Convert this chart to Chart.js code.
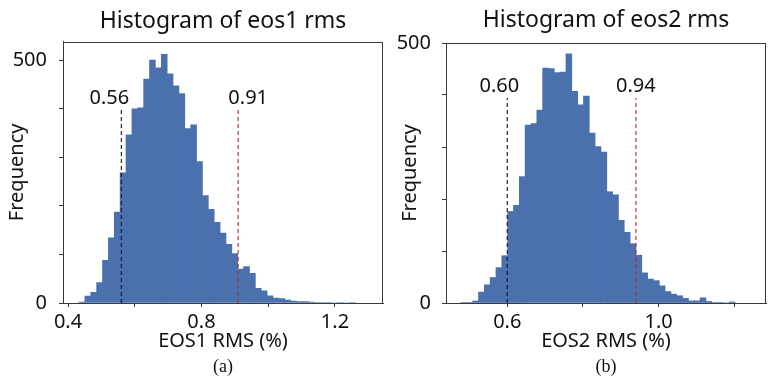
<!DOCTYPE html>
<html>
<head>
<meta charset="utf-8">
<script src="https://cdn.jsdelivr.net/npm/chart.js@4/dist/chart.umd.min.js"></script>
<style>
body{margin:0;background:#fff;width:778px;height:384px;overflow:hidden;position:relative}
canvas{position:absolute;top:0}
#eos1{left:0}
#eos2{left:389px}
</style>
</head>
<body>
<canvas id="eos1" width="389" height="384"></canvas>
<canvas id="eos2" width="389" height="384"></canvas>
<script>
// bin centres and counts
const eos1Bins=[0.4417,0.4593,0.4769,0.4946,0.5122,0.5298,0.5474,0.5650,0.5827,0.6003,
  0.6179,0.6355,0.6531,0.6708,0.6884,0.7060,0.7236,0.7412,0.7589,0.7765,
  0.7941,0.8117,0.8293,0.8470,0.8646,0.8822,0.8998,0.9174,0.9351,0.9527,
  0.9703,0.9879,1.0055,1.0232,1.0408,1.0584,1.0760,1.0936,1.1113,1.1289,
  1.1465,1.1641,1.1817,1.1994,1.2170,1.2346,1.2522];
const eos1Counts=[2,14,22,42,88,134,187,268,346,400,
  402,461,500,484,512,472,447,431,359,367,
  291,221,193,166,144,121,102,70,75,61,
  30,25,15,10,9,6,4,3,3,2,
  1,1,1,0,1,0,1];

const eos2Bins=[0.4853,0.5007,0.5161,0.5316,0.5470,0.5624,0.5778,0.5932,0.6087,0.6241,
  0.6395,0.6549,0.6703,0.6858,0.7012,0.7166,0.7320,0.7474,0.7629,0.7783,
  0.7937,0.8091,0.8245,0.8400,0.8554,0.8708,0.8862,0.9016,0.9171,0.9325,
  0.9479,0.9633,0.9787,0.9942,1.0096,1.0250,1.0404,1.0558,1.0713,1.0867,
  1.1021,1.1175,1.1329,1.1484,1.1638,1.1792,1.1946];
const eos2Counts=[1,1,4,21,35,49,68,91,176,188,
  243,342,345,371,452,451,443,444,479,407,
  381,398,327,301,290,214,208,159,136,114,
  92,58,46,43,33,22,17,14,9,4,
  4,10,3,1,1,0,2];

// percentile markers
const eos1Cuts=[0.56,0.91];
const eos1CutTops=[401,401];
const eos2Cuts=[0.60,0.94];
const eos2CutTops=[394,394];

const eos1Ticks=[0.4,0.6,0.8,1.0,1.2];
const eos1TickLabels=["0.4","","0.8","","1.2"];
const eos2Ticks=[0.6,0.8,1.0,1.2];
const eos2TickLabels=["0.6","","1.0",""];
const freqTicks=[0,100,200,300,400,500];
const freqTickLabels=["0","","","","","500"];

Chart.defaults.font.family='"Noto Sans", sans-serif';
Chart.defaults.color='#111';

const markers={
  id:'markers',
  afterDatasetsDraw(chart,args,o){
    const {ctx,chartArea:a,scales:{x,y}}=chart;
    ctx.save();
    ctx.font='20px "Noto Sans"';
    ctx.fillStyle='#111';
    ctx.textAlign='center';
    ctx.textBaseline='middle';
    o.cuts.forEach((v,i)=>{
      ctx.fillText(v.toFixed(2),x.getPixelForValue(v)+o.dx[i],y.getPixelForValue(o.tops[i])-o.gap);
    });
    ctx.strokeStyle='#3a3a3a';
    ctx.lineWidth=1;
    ctx.strokeRect(Math.round(a.left)+0.5,Math.round(a.top)+0.5,Math.round(a.width)-1,Math.round(a.height));
    ctx.restore();
  }
};

function histogram(id,p){
  const lineColors=['rgba(10,15,40,0.85)','rgba(190,40,40,0.85)'];
  new Chart(id,{
    type:'bar',
    data:{
      datasets:[
        {
          data:p.bins.map((b,i)=>({x:b,y:p.counts[i]})),
          backgroundColor:'#4a71ae',
          borderWidth:0,
          barPercentage:1,
          categoryPercentage:1,
          order:2
        },
        ...p.cuts.map((c,i)=>({
          type:'line',
          data:[{x:c,y:0},{x:c,y:p.tops[i]}],
          borderColor:lineColors[i],
          borderWidth:1.3,
          borderDash:[4,3],
          pointRadius:0,
          fill:false,
          order:1
        }))
      ]
    },
    options:{
      responsive:false,
      animation:false,
      devicePixelRatio:1,
      layout:{padding:{left:0,right:p.padRight,top:0,bottom:0}},
      plugins:{
        legend:{display:false},
        tooltip:{enabled:false},
        title:{display:true,text:p.title,fullSize:false,color:'#111',
          font:{size:23,weight:'normal'},padding:p.titlePad},
        subtitle:{display:true,position:'bottom',text:p.tag,fullSize:false,color:'#111',
          font:{family:'"Liberation Serif", serif',size:18,weight:'normal'},padding:{top:2,bottom:6.2}},
        markers:{cuts:p.cuts,tops:p.tops,dx:p.labelDx,gap:p.labelGap}
      },
      scales:{
        x:{
          type:'linear',min:p.xMin,max:p.xMax,offset:false,
          afterBuildTicks:s=>{s.ticks=p.xTicks.map(v=>({value:v}));},
          ticks:{autoSkip:false,maxRotation:0,padding:3,color:'#111',font:{size:20},
            callback:(v,i)=>p.xLabels[i]},
          grid:{drawOnChartArea:false,offset:false,tickLength:4,color:'#3a3a3a'},
          border:{color:'#3a3a3a'},
          title:{display:true,text:p.xTitle,color:'#111',font:{size:20},padding:{top:0,bottom:1.2}},
          afterFit:s=>{s.height=51.2;}
        },
        y:{
          min:0,max:p.yMax,
          afterBuildTicks:s=>{s.ticks=freqTicks.map(v=>({value:v}));},
          ticks:{padding:p.yTickPad,color:'#111',font:{size:20},callback:(v,i)=>freqTickLabels[i]},
          grid:{drawOnChartArea:false,tickLength:4,color:'#3a3a3a'},
          border:{color:'#3a3a3a'},
          title:{display:true,text:'Frequency',color:'#111',font:{size:20},padding:{top:p.yTitlePad,bottom:0}},
          afterFit:s=>{s.width=p.yWidth;}
        }
      }
    },
    plugins:[markers]
  });
}

histogram('eos1',{
  bins:eos1Bins,counts:eos1Counts,cuts:eos1Cuts,tops:eos1CutTops,
  xTicks:eos1Ticks,xLabels:eos1TickLabels,xMin:0.385,xMax:1.344,yMax:538,
  title:'Histogram of eos1 rms',xTitle:'EOS1 RMS (%)',tag:'(a)',
  titlePad:{top:7.2,bottom:6.9},padRight:6,yWidth:63,yTickPad:12,yTitlePad:5,
  labelDx:[-12,10],labelGap:10
});
histogram('eos2',{
  bins:eos2Bins,counts:eos2Counts,cuts:eos2Cuts,tops:eos2CutTops,
  xTicks:eos2Ticks,xLabels:eos2TickLabels,xMin:0.438,xMax:1.284,yMax:500,
  title:'Histogram of eos2 rms',xTitle:'EOS2 RMS (%)',tag:'(b)',
  titlePad:{top:6.2,bottom:9.2},padRight:12,yWidth:57,yTickPad:11,yTitlePad:9,
  labelDx:[-8,0],labelGap:12
});
</script>
</body>
</html>
